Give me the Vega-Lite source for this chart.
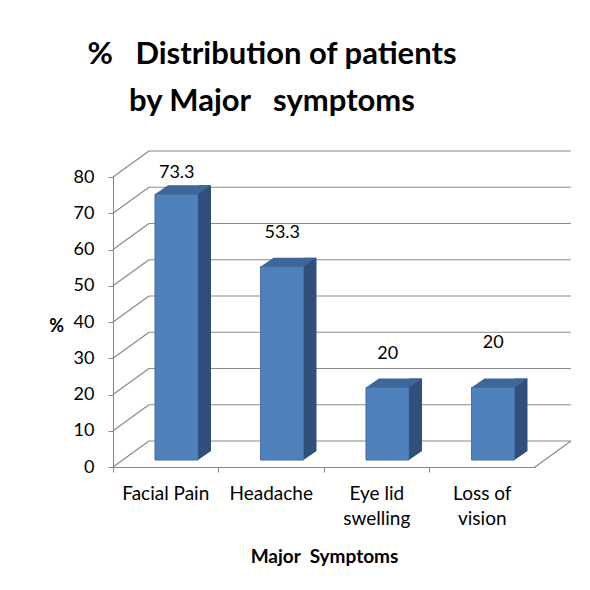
{
  "$schema": "https://vega.github.io/schema/vega-lite/v6.json",
  "width": 422,
  "height": 290,
  "autosize": "none",
  "padding": {"left": 113, "top": 177, "right": 55, "bottom": 123},
  "background": "white",
  "config": {"view": {"stroke": null}, "font": "Lato", "axisY": {"labelOverlap": false, "tickCount": 9}},
  "title": {
    "text": ["%\u00a0\u00a0 Distribution of patients", "by Major\u00a0\u00a0 symptoms"],
    "fontSize": 31,
    "font": "Lato",
    "fontWeight": "bold",
    "lineHeight": 47,
    "dx": -52,
    "offset": 32,
    "anchor": "middle",
    "color": "black"
  },
  "datasets": {
    "bars": [
      {"symptom": "Facial Pain", "value": 73.3},
      {"symptom": "Headache", "value": 53.3},
      {"symptom": "Eye lid swelling", "value": 20},
      {"symptom": "Loss of vision", "value": 20}
    ],
    "ticks": [
      {"v": 0}, {"v": 10}, {"v": 20}, {"v": 30}, {"v": 40},
      {"v": 50}, {"v": 60}, {"v": 70}, {"v": 80}
    ],
    "floor": [{"v": 0}]
  },
  "layer": [
    {
      "data": {"name": "bars"},
      "mark": {"type": "bar", "width": 43, "xOffset": 10.75, "yOffset": -7, "y2Offset": -7, "color": "#4F81BD", "stroke": "#3E6A9E", "strokeWidth": 0.6},
      "encoding": {
        "x": {
          "field": "symptom", "type": "nominal", "sort": null,
          "scale": {"paddingInner": 0, "paddingOuter": 0},
          "axis": {
            "title": "Major\u00a0 Symptoms",
            "titleFontSize": 19,
            "titleFontWeight": "bold",
            "titleColor": "black",
            "titlePadding": 19,
            "labelAngle": 0,
            "labelFontSize": 19,
            "labelColor": "black",
            "labelPadding": 12,
            "labelLineHeight": 25,
            "labelOverlap": false,
            "labelExpr": "datum.label == 'Eye lid swelling' ? ['Eye lid', 'swelling'] : datum.label == 'Loss of vision' ? ['Loss of', 'vision'] : datum.label",
            "bandPosition": 0,
            "tickSize": 5,
            "tickColor": "#868686",
            "domainColor": "#868686"
          }
        },
        "y": {
          "field": "value", "type": "quantitative",
          "scale": {"domain": [0, 80], "nice": false},
          "axis": {
            "values": [0, 10, 20, 30, 40, 50, 60, 70, 80],
            "grid": false,
            "labelOverlap": false,
            "title": "%",
            "titleAngle": 0,
            "titleX": -57,
            "titleY": 149,
            "titleAlign": "center",
            "titleBaseline": "middle",
            "titleFontSize": 18,
            "titleFontWeight": "bold",
            "titleColor": "black",
            "labelFontSize": 18,
            "labelColor": "black",
            "labelPadding": 14,
            "tickSize": 5,
            "tickColor": "#868686",
            "domainColor": "#868686"
          }
        },
        "y2": {"datum": 0}
      }
    },
    {
      "data": {"name": "ticks"},
      "mark": {"type": "rule", "color": "#8a8a8a", "strokeWidth": 1.2, "xOffset": -16.75, "x2Offset": 88.75, "yOffset": -26, "y2Offset": -26},
      "encoding": {
        "x": {"datum": "Facial Pain", "type": "nominal"},
        "x2": {"datum": "Loss of vision"},
        "y": {"field": "v", "type": "quantitative"},
        "y2": {"field": "v"}
      }
    },
    {
      "data": {"name": "ticks"},
      "mark": {"type": "rule", "color": "#8a8a8a", "strokeWidth": 1.2, "xOffset": -52.75, "x2Offset": -16.75, "y2Offset": -26},
      "encoding": {
        "x": {"datum": "Facial Pain", "type": "nominal"},
        "x2": {"datum": "Facial Pain"},
        "y": {"field": "v", "type": "quantitative"},
        "y2": {"field": "v"}
      }
    },
    {
      "data": {"name": "floor"},
      "mark": {"type": "rule", "color": "#8a8a8a", "strokeWidth": 1.2, "xOffset": 52.75, "x2Offset": 88.75, "y2Offset": -26},
      "encoding": {
        "x": {"datum": "Loss of vision", "type": "nominal"},
        "x2": {"datum": "Loss of vision"},
        "y": {"field": "v", "type": "quantitative"},
        "y2": {"field": "v"}
      }
    },
    {
      "data": {"name": "bars"},
      "mark": {"type": "bar", "width": 13, "xOffset": 38.75, "yOffset": -16, "y2Offset": -16, "color": "#30507B"},
      "encoding": {
        "x": {"field": "symptom", "type": "nominal", "sort": null},
        "y": {"field": "value", "type": "quantitative"},
        "y2": {"datum": 0}
      }
    },
    {
      "data": {"name": "bars"},
      "mark": {"type": "point", "filled": true, "opacity": 1, "strokeWidth": 0, "size": 169, "shape": "M-1,-0.692L-1,0.692L1,-0.692Z", "color": "#30507B", "xOffset": 38.75, "yOffset": -11.5},
      "encoding": {
        "x": {"field": "symptom", "type": "nominal", "sort": null},
        "y": {"datum": 0, "type": "quantitative"}
      }
    },
    {
      "data": {"name": "bars"},
      "mark": {"type": "bar", "width": 43, "xOffset": 10.75, "yOffset": -7, "y2Offset": -7, "color": "#4F81BD", "stroke": "#3E6A9E", "strokeWidth": 0.6},
      "encoding": {
        "x": {"field": "symptom", "type": "nominal", "sort": null},
        "y": {"field": "value", "type": "quantitative"},
        "y2": {"datum": 0}
      }
    },
    {
      "data": {"name": "bars"},
      "mark": {"type": "point", "filled": true, "opacity": 1, "strokeWidth": 0, "size": 3136, "shape": "M-1,0.1607L0.5357,0.1607L1,-0.1607L-0.5357,-0.1607Z", "color": "#3D6699", "xOffset": 17.25, "yOffset": -11.5},
      "encoding": {
        "x": {"field": "symptom", "type": "nominal", "sort": null},
        "y": {"field": "value", "type": "quantitative"}
      }
    },
    {
      "data": {"name": "bars"},
      "transform": [{"filter": "datum.value > 70"}],
      "mark": {"type": "text", "fontSize": 18, "color": "black", "xOffset": 11, "yOffset": -28},
      "encoding": {
        "x": {"field": "symptom", "type": "nominal", "sort": null},
        "y": {"field": "value", "type": "quantitative"},
        "text": {"field": "value", "type": "quantitative", "format": ".1~f"}
      }
    },
    {
      "data": {"name": "bars"},
      "transform": [{"filter": "datum.value <= 70 && datum.symptom != 'Loss of vision'"}],
      "mark": {"type": "text", "fontSize": 18, "color": "black", "xOffset": 11, "yOffset": -41},
      "encoding": {
        "x": {"field": "symptom", "type": "nominal", "sort": null},
        "y": {"field": "value", "type": "quantitative"},
        "text": {"field": "value", "type": "quantitative", "format": ".1~f"}
      }
    },
    {
      "data": {"name": "bars"},
      "transform": [{"filter": "datum.symptom == 'Loss of vision'"}],
      "mark": {"type": "text", "fontSize": 18, "color": "black", "xOffset": 11, "yOffset": -52},
      "encoding": {
        "x": {"field": "symptom", "type": "nominal", "sort": null},
        "y": {"field": "value", "type": "quantitative"},
        "text": {"field": "value", "type": "quantitative", "format": ".1~f"}
      }
    }
  ]
}
